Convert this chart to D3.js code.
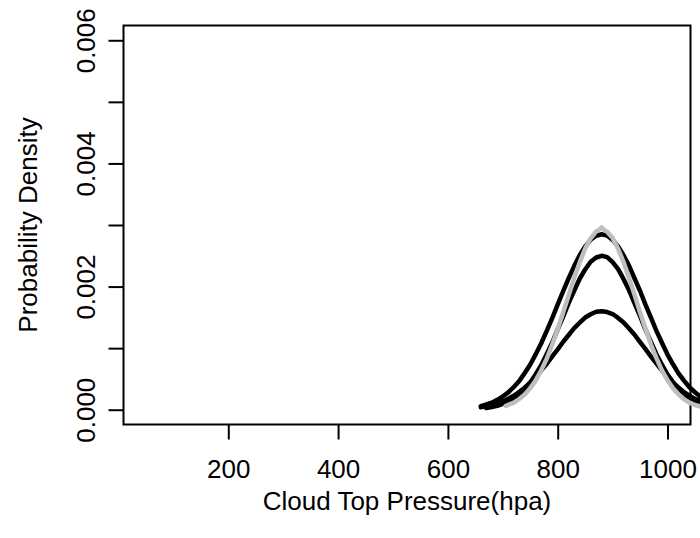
<!DOCTYPE html>
<html>
<head>
<meta charset="utf-8">
<script src="https://cdn.jsdelivr.net/npm/d3@7"></script>
<style>
  html, body { margin: 0; padding: 0; background: #fff; }
  svg text { font-family: "Liberation Sans", Arial, sans-serif; fill: #000; }
</style>
</head>
<body>
<svg id="chart" width="700" height="538"></svg>
<script>
// Cloud top pressure (hPa) grid used by the density curves
const pressureWide = [660, 670, 680, 690, 700, 710, 720, 730, 740, 750, 760, 770, 780, 790, 800, 810, 820, 830, 840, 850, 860, 870, 880, 890, 900, 910, 920, 930, 940, 950, 960, 970, 980, 990, 1000, 1010, 1020, 1030, 1040, 1050, 1060];
const pressureMid = [670, 680, 690, 700, 710, 720, 730, 740, 750, 760, 770, 780, 790, 800, 810, 820, 830, 840, 850, 860, 870, 880, 890, 900, 910, 920, 930, 940, 950, 960, 970, 980, 990, 1000, 1010, 1020, 1030, 1040, 1050, 1060];
const pressureGrey = [705, 710, 720, 730, 740, 750, 760, 770, 780, 790, 800, 810, 820, 830, 840, 850, 860, 870, 875, 880, 885, 890, 900, 910, 920, 930, 940, 950, 960, 970, 980, 990, 1000, 1010, 1020, 1030, 1040, 1050, 1060];

// Probability density of each curve
const densityWide = [0.000059, 0.000085, 0.000114, 0.000160, 0.000214, 0.000281, 0.000369, 0.000468, 0.000596, 0.000735, 0.000902, 0.001080, 0.001281, 0.001486, 0.001710, 0.001925, 0.002138, 0.002332, 0.002508, 0.002650, 0.002760, 0.002826, 0.002850, 0.002828, 0.002758, 0.002652, 0.002505, 0.002336, 0.002131, 0.001928, 0.001702, 0.001492, 0.001276, 0.001084, 0.000896, 0.000738, 0.000590, 0.000472, 0.000365, 0.000284, 0.000212];
const densityMid = [0.000028, 0.000044, 0.000062, 0.000094, 0.000129, 0.000186, 0.000250, 0.000340, 0.000444, 0.000578, 0.000724, 0.000904, 0.001091, 0.001305, 0.001512, 0.001736, 0.001933, 0.002127, 0.002278, 0.002403, 0.002472, 0.002500, 0.002478, 0.002397, 0.002284, 0.002120, 0.001940, 0.001728, 0.001520, 0.001297, 0.001098, 0.000897, 0.000730, 0.000572, 0.000449, 0.000335, 0.000254, 0.000182, 0.000133, 0.000090];
const densityLow = [0.000040, 0.000058, 0.000075, 0.000104, 0.000134, 0.000179, 0.000225, 0.000290, 0.000357, 0.000443, 0.000531, 0.000639, 0.000744, 0.000866, 0.000980, 0.001104, 0.001213, 0.001325, 0.001413, 0.001497, 0.001550, 0.001590, 0.001600, 0.001586, 0.001554, 0.001491, 0.001418, 0.001320, 0.001218, 0.001099, 0.000985, 0.000861, 0.000749, 0.000634, 0.000536, 0.000439, 0.000360, 0.000286, 0.000229, 0.000175, 0.000138];
const densityGrey = [0.000060, 0.000078, 0.000114, 0.000174, 0.000246, 0.000351, 0.000476, 0.000641, 0.000828, 0.001060, 0.001306, 0.001584, 0.001859, 0.002141, 0.002392, 0.002619, 0.002783, 0.002896, 0.002920, 0.002960, 0.002918, 0.002890, 0.002788, 0.002612, 0.002398, 0.002135, 0.001865, 0.001578, 0.001312, 0.001054, 0.000834, 0.000636, 0.000480, 0.000347, 0.000250, 0.000170, 0.000116, 0.000076, 0.000052];

// Axis ticks
const xTicks = [200, 400, 600, 800, 1000];
const yTicks = [0, 0.001, 0.002, 0.003, 0.004, 0.005, 0.006];
const yTickLabels = ["0.000", "", "0.002", "", "0.004", "", "0.006"];

const svg = d3.select("#chart");
const plot = { left: 123.5, right: 690.5, top: 25.5, bottom: 424.5 };

// data limits padded by 4% on each side
const xLim = [47.4, 1003.6];
const xPad = (xLim[1] - xLim[0]) * 0.04;
const yLim = [0, 0.006];
const yPad = (yLim[1] - yLim[0]) * 0.04;

const x = d3.scaleLinear().domain([xLim[0] - xPad, xLim[1] + xPad]).range([plot.left, plot.right]);
const y = d3.scaleLinear().domain([yLim[0] - yPad, yLim[1] + yPad]).range([plot.bottom, plot.top]);

const fontSize = 26;

// x axis
const xAxis = d3.axisBottom(x).tickValues(xTicks).tickFormat(d3.format("d")).tickSizeOuter(0).tickSize(15);
const gx = svg.append("g").attr("transform", `translate(0,${plot.bottom})`).call(xAxis);
gx.select(".domain").remove();
gx.selectAll(".tick line").attr("stroke", "#000").attr("stroke-width", 2);
gx.selectAll(".tick text")
  .attr("font-size", fontSize)
  .attr("font-family", "Liberation Sans, Arial, sans-serif")
  .attr("y", 44).attr("dy", null)
  .attr("dominant-baseline", "central");

// y axis with vertical labels
const yAxis = d3.axisLeft(y).tickValues(yTicks).tickFormat((d, i) => yTickLabels[i]).tickSizeOuter(0).tickSize(15);
const gy = svg.append("g").attr("transform", `translate(${plot.left},0)`).call(yAxis);
gy.select(".domain").remove();
gy.selectAll(".tick line").attr("stroke", "#000").attr("stroke-width", 2);
gy.selectAll(".tick text")
  .attr("font-size", fontSize)
  .attr("font-family", "Liberation Sans, Arial, sans-serif")
  .attr("x", 0).attr("y", 0).attr("dy", null)
  .attr("text-anchor", "middle")
  .attr("dominant-baseline", "central")
  .attr("transform", "translate(-38,0) rotate(-90)");

// plot frame
svg.append("rect")
  .attr("x", plot.left).attr("y", plot.top)
  .attr("width", plot.right - plot.left).attr("height", plot.bottom - plot.top)
  .attr("fill", "none").attr("stroke", "#000").attr("stroke-width", 2);

// density curves
const line = d3.line().x(d => x(d[0])).y(d => y(d[1]));
const series = [
  { p: pressureWide, d: densityWide, color: "#000" },
  { p: pressureMid, d: densityMid, color: "#000" },
  { p: pressureWide, d: densityLow, color: "#000" },
  { p: pressureGrey, d: densityGrey, color: "#bebebe" }
];
series.forEach(s => {
  svg.append("path")
    .datum(d3.zip(s.p, s.d))
    .attr("d", line)
    .attr("fill", "none")
    .attr("stroke", s.color)
    .attr("stroke-width", 4.5)
    .attr("stroke-linecap", "round")
    .attr("stroke-linejoin", "round");
});

// axis titles
svg.append("text")
  .attr("x", (plot.left + plot.right) / 2)
  .attr("y", 501)
  .attr("text-anchor", "middle")
  .attr("dominant-baseline", "central")
  .attr("font-size", fontSize)
  .text("Cloud Top Pressure(hpa)");

svg.append("text")
  .attr("transform", `translate(28,${(plot.top + plot.bottom) / 2}) rotate(-90)`)
  .attr("text-anchor", "middle")
  .attr("dominant-baseline", "central")
  .attr("font-size", fontSize)
  .text("Probability Density");
</script>
</body>
</html>
